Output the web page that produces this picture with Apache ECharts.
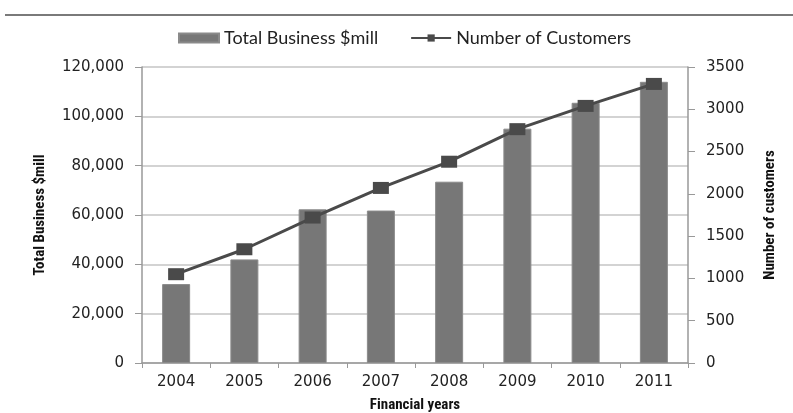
<!DOCTYPE html>
<html>
<head>
<meta charset="utf-8">
<script src="https://cdn.jsdelivr.net/npm/echarts@6/dist/echarts.min.js"></script>
<style>html,body{margin:0;padding:0;background:#fff}#c{width:793px;height:413px}</style>
</head>
<body>
<div id="c"></div>
<script>
const years = ['2004','2005','2006','2007','2008','2009','2010','2011'];
const totalBusiness = [32000, 42000, 62300, 61800, 73500, 95000, 105500, 114000];
const customers = [1050, 1345, 1720, 2070, 2380, 2765, 3040, 3300];
const leftTicks = {min: 0, max: 120000, interval: 20000};
const rightTicks = {min: 0, max: 3500, interval: 500};

const tickFont = "'DejaVu Sans', Verdana, sans-serif";
const condFont = "'Liberation Sans Narrow', 'Roboto Condensed', 'Liberation Sans', sans-serif";
const legendFont = "Lato, 'Open Sans', sans-serif";

const chart = echarts.init(document.getElementById('c'), null, {renderer: 'canvas'});
chart.setOption({
  animation: false,
  backgroundColor: '#fff',
  graphic: [{
    type: 'line',
    shape: {x1: 5, y1: 15, x2: 793, y2: 15},
    style: {stroke: '#7a7a7a', lineWidth: 2}
  }],
  legend: {
    top: 29,
    left: 178,
    padding: 0,
    itemGap: 32,
    itemWidth: 40,
    itemHeight: 9,
    textStyle: {fontFamily: legendFont, fontSize: 18, color: '#222'},
    data: [
      {name: 'Total Business $mill', icon: 'rect'},
      {name: 'Number of Customers'}
    ]
  },
  grid: {left: 142, right: 105, top: 67, bottom: 50, containLabel: false, outerBoundsMode: 'none'},
  xAxis: {
    type: 'category',
    data: years,
    name: 'Financial years',
    nameLocation: 'middle',
    nameGap: 35,
    nameTextStyle: {fontFamily: condFont, fontWeight: 'bold', fontSize: 15, color: '#111'},
    axisLine: {lineStyle: {color: '#999', width: 1.5}},
    axisTick: {show: true, alignWithLabel: false, length: 5, lineStyle: {color: '#999'}},
    axisLabel: {fontFamily: tickFont, fontSize: 15, color: '#222', margin: 12}
  },
  yAxis: [{
    type: 'value',
    min: leftTicks.min, max: leftTicks.max, interval: leftTicks.interval,
    name: 'Total Business $mill',
    nameLocation: 'middle',
    nameGap: 94,
    nameRotate: 90,
    nameTextStyle: {fontFamily: condFont, fontWeight: 'bold', fontSize: 15, color: '#111'},
    axisLine: {show: true, lineStyle: {color: '#999', width: 1.5}},
    axisTick: {show: true, length: 7, lineStyle: {color: '#999'}},
    axisLabel: {fontFamily: tickFont, fontSize: 15, color: '#222', margin: 18,
      formatter: v => v.toLocaleString('en-US')},
    splitLine: {show: true, lineStyle: {color: '#c4c4c4', width: 1.5}}
  }, {
    type: 'value',
    position: 'right',
    min: rightTicks.min, max: rightTicks.max, interval: rightTicks.interval,
    name: 'Number of customers',
    nameLocation: 'middle',
    nameGap: 75,
    nameRotate: 90,
    nameTextStyle: {fontFamily: condFont, fontWeight: 'bold', fontSize: 15, color: '#111'},
    axisLine: {show: true, lineStyle: {color: '#999', width: 1.5}},
    axisTick: {show: true, length: 7, lineStyle: {color: '#999'}},
    axisLabel: {fontFamily: tickFont, fontSize: 15, color: '#222', margin: 18,
      formatter: v => String(v)},
    splitLine: {show: false}
  }],
  series: [{
    name: 'Total Business $mill',
    type: 'bar',
    yAxisIndex: 0,
    data: totalBusiness,
    barWidth: 28,
    itemStyle: {color: '#777777', borderColor: '#8a8a8a', borderWidth: 1}
  }, {
    name: 'Number of Customers',
    type: 'line',
    yAxisIndex: 1,
    data: customers,
    symbol: 'rect',
    symbolSize: [16, 12],
    lineStyle: {color: '#4a4a4a', width: 3},
    itemStyle: {color: '#4a4a4a'},
    z: 5
  }]
});
</script>
</body>
</html>
